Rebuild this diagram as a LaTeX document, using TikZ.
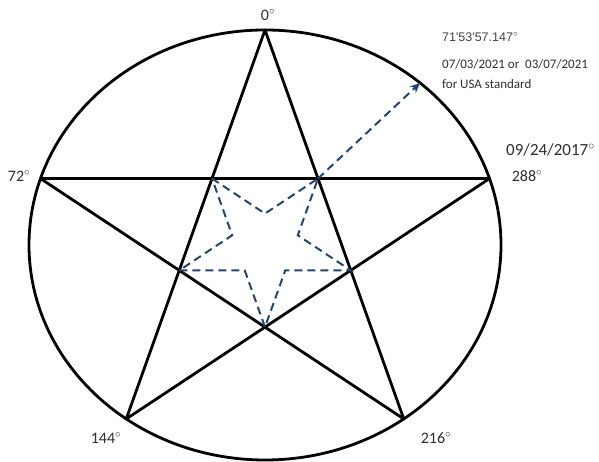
\documentclass[tikz,border=0pt]{standalone}
\usepackage{fontspec}
\setmainfont{Carlito}
\newfontfamily\arialf{Liberation Sans}
\usetikzlibrary{arrows.meta}
\definecolor{dblue}{HTML}{27456B}
\definecolor{lbl}{HTML}{2E2E2E}
\definecolor{lbltwo}{HTML}{444444}
\begin{document}
\begin{tikzpicture}[x=1pt,y=1pt,
  solidline/.style={line width=2.8pt, black, line join=round},
  dashline/.style={line width=2pt, dblue, dash pattern=on 8pt off 5pt},
  deglbl/.style={font=\fontsize{16}{18}\selectfont, text=lbl, inner sep=0pt},
  notelbl/.style={font=\fontsize{13}{15}\selectfont, text=lbl, inner sep=0pt, anchor=west}]
\useasboundingbox (0,0) rectangle (599,462);
\coordinate (O) at (265,217);
\begin{scope}[shift={(O)}, xscale=1.098]
  \foreach \a/\n in {90/v0,162/v72,234/v144,306/v216,18/v288}
    \coordinate (\n) at (\a:215);
  \foreach \a/\n in {54/p1,126/p2,198/p3,270/p4,342/p5}
    \coordinate (\n) at (\a:82.1);
  \foreach \a/\n in {90/c1,162/c2,234/c3,306/c4,18/c5}
    \coordinate (\n) at (\a:31.4);
\end{scope}
\coordinate (tip) at (420,379);
% circle
\draw[solidline] (O) ellipse [x radius=236, y radius=215];
% pentagram
\draw[solidline] (v0) -- (v144) -- (v288) -- (v72) -- (v216) -- cycle;
% inner dashed star
\draw[dashline, line join=miter] (p2) -- (c1) -- (p1) -- (c5) -- (p5) -- (c4) -- (p4) -- (c3) -- (p3) -- (c2) -- cycle;
% arrow
\draw[dashline, -{Stealth[length=10pt,width=9pt]}] (p1) -- (tip);
% labels
\node[deglbl] (l0) at (268,447) {0$^\circ$};
\node[deglbl] (l72) at (19,286) {72$^\circ$};
\node[deglbl] (l288) at (527,286) {288$^\circ$};
\node[deglbl] (l144) at (106,24) {144$^\circ$};
\node[deglbl] (l216) at (436,24) {216$^\circ$};
\node[deglbl, anchor=west, font=\fontsize{17}{19}\selectfont] (ldate) at (506,312) {09/24/2017$^\circ$};
\node[notelbl, font=\arialf\fontsize{12.5}{15}\selectfont, text=lbltwo] (lang) at (442,425) {71'53'57.147$^\circ$};
\node[notelbl] (ld1) at (442,398) {07/03/2021 or\ \ 03/07/2021};
\node[notelbl] (ld2) at (442,378) {for USA standard};
\end{tikzpicture}
\end{document}
